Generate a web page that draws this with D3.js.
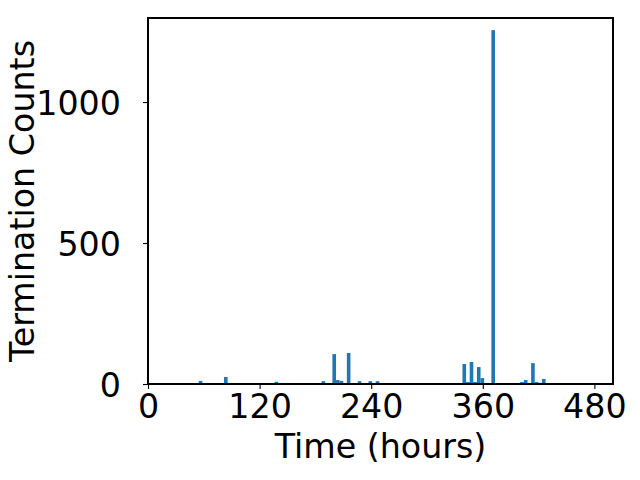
<!DOCTYPE html>
<meta charset="utf-8">
<head>
	<script src="https://d3js.org/d3.v7.min.js"></script>
</head>
<style>
	body { margin: 0; background: #fff; }
	svg { display: block; font-family: "DejaVu Sans", sans-serif; }
</style>
<body>
<script>
	// histogram bins: 100 equal bins starting at binStart (hours)
	var binStart = 39,
		binWidth = 3.885;

	var counts = [
		3, 2, 0, 0, 11, 0, 0, 0, 0, 0,
		0, 25, 3, 3, 3, 3, 0, 0, 0, 0,
		0, 0, 0, 0, 0, 8, 0, 0, 0, 0,
		0, 0, 0, 0, 0, 0, 3, 0, 10, 3,
		0, 106, 14, 11, 3, 110, 3, 0, 10, 3,
		3, 10, 0, 10, 0, 0, 0, 0, 0, 0,
		0, 0, 0, 0, 0, 0, 2, 0, 2, 0,
		0, 2, 0, 0, 2, 0, 0, 71, 7, 78,
		7, 60, 21, 0, 3, 1255, 0, 0, 0, 0,
		0, 0, 3, 7, 14, 0, 74, 7, 4, 18
	];

	var xTicks = [0, 120, 240, 360, 480],
		yTicks = [0, 500, 1000];

	var width = 640, height = 480;
	var margin = {top: 18, right: 27, bottom: 96, left: 148};
	var fontSize = 33.3;

	var svg = d3.select("body").append("svg")
		.attr("width", width)
		.attr("height", height);

	var x = d3.scaleLinear()
		.domain([0, 500])
		.range([margin.left, width - margin.right]);

	var y = d3.scaleLinear()
		.domain([0, 1298])
		.range([height - margin.bottom, margin.top]);

	var bins = counts.map(function(c, i) {
		return { x0: binStart + i * binWidth, x1: binStart + (i + 1) * binWidth, n: c };
	});

	svg.append("g")
		.selectAll("rect")
		.data(bins.filter(function(d) { return d.n > 0; }))
		.enter().append("rect")
		.attr("x", function(d) { return x(d.x0); })
		.attr("width", function(d) { return x(d.x1) - x(d.x0); })
		.attr("y", function(d) { return y(d.n); })
		.attr("height", function(d) { return y(0) - y(d.n); })
		.attr("fill", "#1f77b4");

	// axes
	var xAxis = svg.append("g")
		.attr("transform", "translate(0," + y(0) + ")")
		.call(d3.axisBottom(x).tickValues(xTicks).tickFormat(d3.format("d"))
			.tickSize(5).tickPadding(4).tickSizeOuter(0));

	var yAxis = svg.append("g")
		.attr("transform", "translate(" + x(0) + ",0)")
		.call(d3.axisLeft(y).tickValues(yTicks).tickFormat(d3.format("d"))
			.tickSize(5).tickPadding(22).tickSizeOuter(0));

	[xAxis, yAxis].forEach(function(a) {
		a.attr("font-size", null).attr("font-family", null);
		a.select(".domain").remove();
		a.selectAll("line").attr("stroke", "#000").attr("stroke-width", 1.1);
		a.selectAll("text")
			.attr("fill", "#000")
			.style("font-family", "'DejaVu Sans', sans-serif")
			.style("font-size", fontSize + "px");
	});
	xAxis.selectAll("text").attr("dy", "0.76em");
	yAxis.selectAll("text").attr("dy", "0.36em");

	// frame
	svg.append("rect")
		.attr("x", x(0))
		.attr("y", y.range()[1])
		.attr("width", x.range()[1] - x(0))
		.attr("height", y(0) - y.range()[1])
		.attr("fill", "none")
		.attr("stroke", "#000")
		.attr("stroke-width", 1.1)
		.attr("shape-rendering", "crispEdges");

	svg.append("text")
		.attr("x", (x.range()[0] + x.range()[1]) / 2)
		.attr("y", 458)
		.attr("text-anchor", "middle")
		.style("font-size", fontSize + "px")
		.text("Time (hours)");

	svg.append("text")
		.attr("transform", "translate(34," + (y.range()[0] + y.range()[1]) / 2 + ") rotate(-90)")
		.attr("text-anchor", "middle")
		.style("font-size", fontSize + "px")
		.text("Termination Counts");
</script>
</body>
